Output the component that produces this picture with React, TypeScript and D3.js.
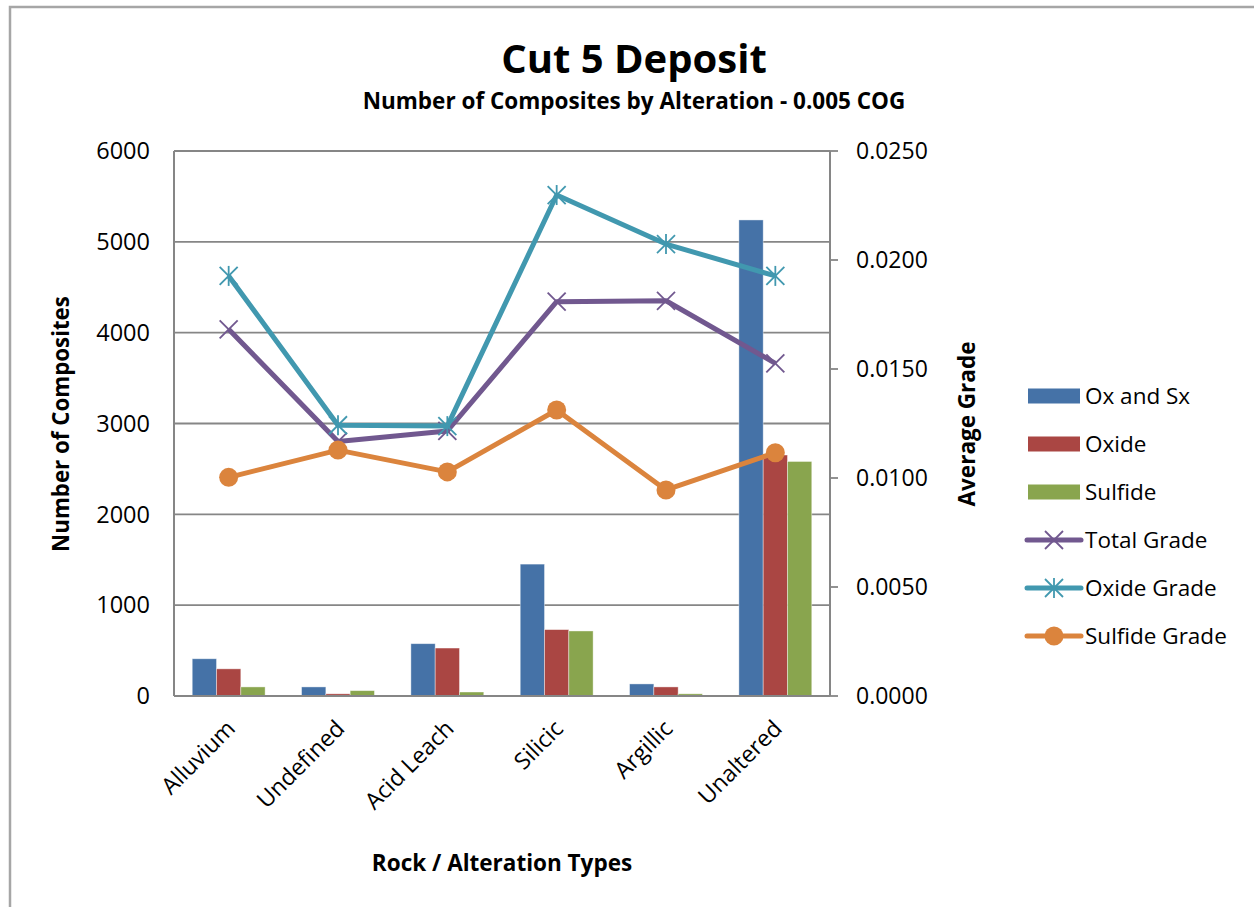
import React from "react";
import * as d3 from "d3";

const categories = ["Alluvium", "Undefined", "Acid Leach", "Silicic", "Argillic", "Unaltered"];
const oxAndSx = [410, 100, 576, 1452, 133, 5241];
const oxide = [299, 24, 528, 731, 100, 2653];
const sulfide = [100, 59, 44, 716, 24, 2582];
const totalGrade = [0.01682, 0.01167, 0.01216, 0.01809, 0.01813, 0.01526];
const oxideGrade = [0.01927, 0.01242, 0.01238, 0.02298, 0.02073, 0.01927];
const sulfideGrade = [0.01003, 0.01128, 0.01028, 0.01312, 0.00945, 0.01116];
const leftTicks = [0, 1000, 2000, 3000, 4000, 5000, 6000];
const rightTicks = [0, 0.005, 0.01, 0.015, 0.02, 0.025];

const barSeries = [
  { name: "Ox and Sx", values: oxAndSx, color: "#4572A7" },
  { name: "Oxide", values: oxide, color: "#AA4643" },
  { name: "Sulfide", values: sulfide, color: "#89A54E" },
];
const lineSeries = [
  { name: "Total Grade", values: totalGrade, color: "#71588F", marker: "x" },
  { name: "Oxide Grade", values: oxideGrade, color: "#4198AF", marker: "star" },
  { name: "Sulfide Grade", values: sulfideGrade, color: "#DB843D", marker: "circle" },
];

const FONT = "'Open Sans', 'Liberation Sans', sans-serif";

function Marker({ type, x, y, color }: { type: string; x: number; y: number; color: string }) {
  const s = 9;
  if (type === "circle") return <circle cx={x} cy={y} r={9.5} fill={color} />;
  const lines = [
    [x - s, y - s, x + s, y + s],
    [x - s, y + s, x + s, y - s],
  ];
  if (type === "star") lines.push([x, y - s - 1, x, y + s + 1]);
  return (
    <g>
      {lines.map((l, i) => (
        <line key={i} x1={l[0]} y1={l[1]} x2={l[2]} y2={l[3]} stroke={color} strokeWidth={1.8} />
      ))}
    </g>
  );
}

export default function App() {
  const left = 174, right = 830, top = 151, bottom = 696;
  const x = d3.scaleBand<string>().domain(categories).range([left, right]);
  const band = x.bandwidth();
  const barW = band / 4.5;
  const yL = d3.scaleLinear().domain([0, 6000]).range([bottom, top]);
  const yR = d3.scaleLinear().domain([0, 0.025]).range([bottom, top]);
  const cx = (c: string) => (x(c) as number) + band / 2;
  const line = d3
    .line<number>()
    .x((_, i) => cx(categories[i]))
    .y((v) => yR(v));

  const legendItems = [...barSeries.map((b) => ({ ...b, kind: "bar" })), ...lineSeries.map((l) => ({ ...l, kind: "line" }))];

  return (
    <svg width={1254} height={907} style={{ position: "absolute", left: 0, top: 0, background: "#fff" }} fontFamily={FONT}>
      <rect x={0} y={0} width={1254} height={907} fill="#fff" />
      <path d="M10,907 L10,7 L1254,7" fill="none" stroke="#a6a6a6" strokeWidth={2.5} />
      <text x={634} y={73} textAnchor="middle" fontSize={40} fontWeight="bold">Cut 5 Deposit</text>
      <text x={634} y={109} textAnchor="middle" fontSize={22.5} fontWeight="bold">Number of Composites by Alteration - 0.005 COG</text>

      {/* gridlines */}
      {leftTicks.map((t) => (
        <line key={t} x1={left} x2={right} y1={yL(t)} y2={yL(t)} stroke="#868686" strokeWidth={1.8} />
      ))}
      <line x1={left} x2={left} y1={top} y2={bottom} stroke="#868686" strokeWidth={2} />
      <line x1={right} x2={right} y1={top} y2={bottom} stroke="#868686" strokeWidth={2} />
      {rightTicks.map((t) => (
        <line key={t} x1={right} x2={right + 8} y1={yR(t)} y2={yR(t)} stroke="#868686" strokeWidth={1.8} />
      ))}

      {/* bars */}
      {barSeries.map((s, si) => (
        <g key={s.name}>
          {s.values.map((v, i) => (
            <rect
              key={i}
              x={cx(categories[i]) - 1.5 * barW + si * barW}
              y={yL(v)}
              width={barW}
              height={bottom - yL(v)}
              fill={s.color}
              stroke="#fff"
              strokeOpacity={0.5}
              strokeWidth={0.8}
            />
          ))}
        </g>
      ))}
      <line x1={left} x2={right} y1={bottom} y2={bottom} stroke="#868686" strokeWidth={2.2} />

      {/* lines */}
      {lineSeries.map((s) => (
        <g key={s.name}>
          <path d={line(s.values) || ""} fill="none" stroke={s.color} strokeWidth={5} strokeLinejoin="round" />
          {s.values.map((v, i) => (
            <Marker key={i} type={s.marker} x={cx(categories[i])} y={yR(v)} color={s.color} />
          ))}
        </g>
      ))}

      {/* left ticks */}
      {leftTicks.map((t) => (
        <text key={t} x={150} y={yL(t)} dy="0.35em" textAnchor="end" fontSize={23.5}>{t}</text>
      ))}
      {rightTicks.map((t) => (
        <text key={t} x={856} y={yR(t)} dy="0.35em" textAnchor="start" fontSize={23}>{t.toFixed(4)}</text>
      ))}

      {/* x labels */}
      {categories.map((c) => (
        <text key={c} transform={`translate(${cx(c) + 8},${730}) rotate(-45)`} textAnchor="end" fontSize={23}>{c}</text>
      ))}

      {/* axis titles */}
      <text transform={`translate(69,${424}) rotate(-90)`} textAnchor="middle" fontSize={22.3} fontWeight="bold">Number of Composites</text>
      <text transform={`translate(975,${424}) rotate(-90)`} textAnchor="middle" fontSize={22.5} fontWeight="bold">Average Grade</text>
      <text x={502} y={871} textAnchor="middle" fontSize={22.5} fontWeight="bold">Rock / Alteration Types</text>

      {/* legend */}
      {legendItems.map((it: any, i) => {
        const yy = 396 + i * 48;
        return (
          <g key={it.name}>
            {it.kind === "bar" ? (
              <rect x={1028} y={yy - 7.5} width={52} height={15} fill={it.color} />
            ) : (
              <g>
                <line x1={1027} x2={1081} y1={yy} y2={yy} stroke={it.color} strokeWidth={5} strokeLinecap="round" />
                <Marker type={it.marker} x={1054} y={yy} color={it.color} />
              </g>
            )}
            <text x={1085} y={yy} dy="0.35em" fontSize={22.5}>{it.name}</text>
          </g>
        );
      })}
    </svg>
  );
}
